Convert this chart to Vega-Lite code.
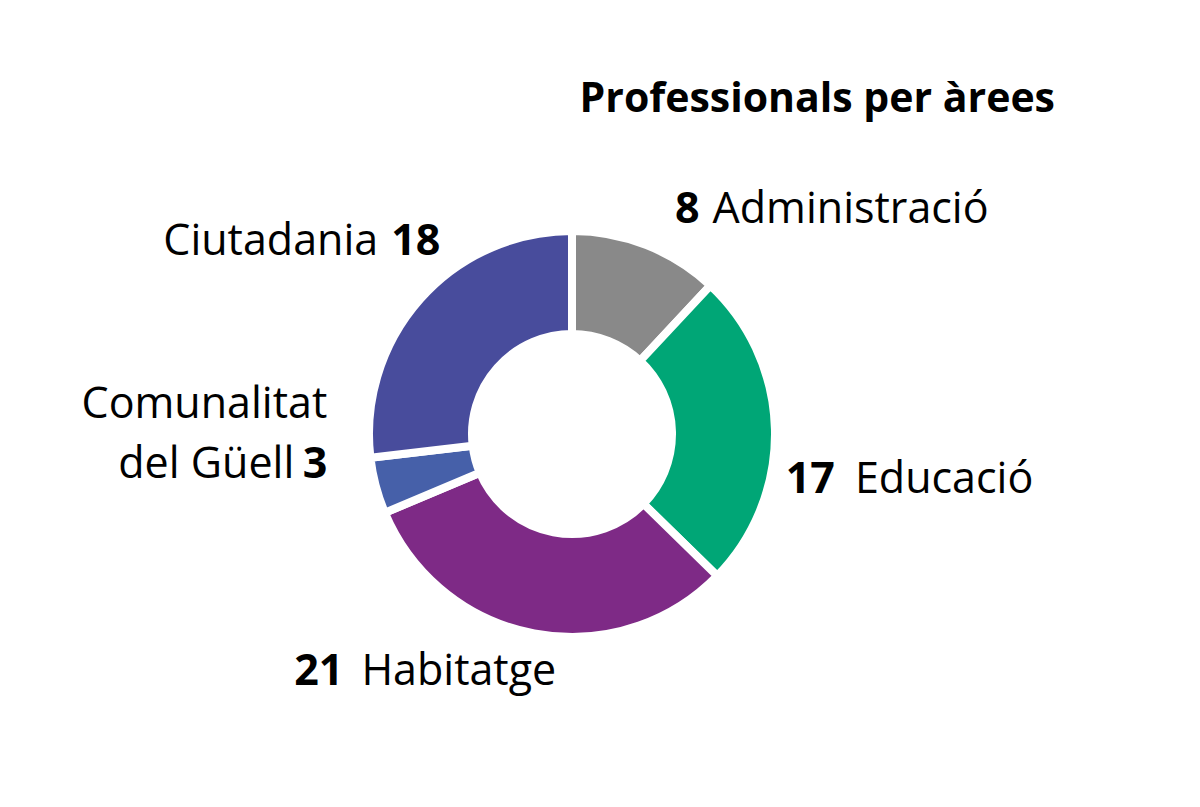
{
  "$schema": "https://vega.github.io/schema/vega-lite/v6.json",
  "autosize": "none",
  "width": 1144,
  "height": 746,
  "padding": {"left": 0, "top": 61, "right": 56, "bottom": 0},
  "background": "white",
  "config": {"view": {"stroke": null}, "text": {"font": "Open Sans", "fontSize": 43, "color": "black", "baseline": "alphabetic"}},
  "title": {
    "text": "Professionals per àrees",
    "font": "Open Sans",
    "fontSize": 41,
    "fontWeight": "bold",
    "color": "black",
    "anchor": "end",
    "frame": "group",
    "baseline": "alphabetic",
    "offset": 0,
    "dx": -89,
    "dy": 92
  },
  "data": {
    "values": [
      {"ord": 1, "area": "Administració", "value": 8},
      {"ord": 2, "area": "Educació", "value": 17},
      {"ord": 3, "area": "Habitatge", "value": 21},
      {"ord": 4, "area": "Comunalitat del Güell", "value": 3},
      {"ord": 5, "area": "Ciutadania", "value": 18}
    ]
  },
  "encoding": {
    "theta": {"field": "value", "type": "quantitative", "stack": true},
    "order": {"field": "ord", "type": "quantitative"}
  },
  "layer": [
    {
      "mark": {"type": "arc", "outerRadius": 203, "innerRadius": 100, "stroke": "white", "strokeWidth": 8},
      "encoding": {
        "color": {
          "field": "area",
          "type": "nominal",
          "scale": {
            "domain": ["Administració", "Educació", "Habitatge", "Comunalitat del Güell", "Ciutadania"],
            "range": ["#898989", "#00A676", "#7E2A86", "#4660A9", "#484C9C"]
          },
          "legend": null
        }
      }
    },
    {
      "mark": {"type": "text", "radius": 250, "align": "right", "fontWeight": "bold", "dx": 36, "dy": 22},
      "encoding": {"text": {"condition": {"test": "datum.area === 'Administració'", "field": "value", "type": "quantitative"}, "value": ""}}
    },
    {
      "mark": {"type": "text", "radius": 250, "align": "left", "dx": 49, "dy": 22},
      "encoding": {"text": {"condition": {"test": "datum.area === 'Administració'", "field": "area", "type": "nominal"}, "value": ""}}
    },
    {
      "mark": {"type": "text", "radius": 250, "align": "right", "fontWeight": "bold", "dx": 13, "dy": 65},
      "encoding": {"text": {"condition": {"test": "datum.area === 'Educació'", "field": "value", "type": "quantitative"}, "value": ""}}
    },
    {
      "mark": {"type": "text", "radius": 250, "align": "left", "dx": 33, "dy": 65},
      "encoding": {"text": {"condition": {"test": "datum.area === 'Educació'", "field": "area", "type": "nominal"}, "value": ""}}
    },
    {
      "mark": {"type": "text", "radius": 250, "align": "right", "fontWeight": "bold", "dx": -182, "dy": 5},
      "encoding": {"text": {"condition": {"test": "datum.area === 'Habitatge'", "field": "value", "type": "quantitative"}, "value": ""}}
    },
    {
      "mark": {"type": "text", "radius": 250, "align": "left", "dx": -164, "dy": 5},
      "encoding": {"text": {"condition": {"test": "datum.area === 'Habitatge'", "field": "area", "type": "nominal"}, "value": ""}}
    },
    {
      "mark": {"type": "text", "radius": 250, "align": "right", "dx": -3, "dy": -80},
      "encoding": {"text": {"condition": {"test": "datum.area === 'Comunalitat del Güell'", "value": "Comunalitat"}, "value": ""}}
    },
    {
      "mark": {"type": "text", "radius": 250, "align": "right", "dx": -36, "dy": -20},
      "encoding": {"text": {"condition": {"test": "datum.area === 'Comunalitat del Güell'", "value": "del Güell"}, "value": ""}}
    },
    {
      "mark": {"type": "text", "radius": 250, "align": "right", "fontWeight": "bold", "dx": -3, "dy": -20},
      "encoding": {"text": {"condition": {"test": "datum.area === 'Comunalitat del Güell'", "field": "value", "type": "quantitative"}, "value": ""}}
    },
    {
      "mark": {"type": "text", "radius": 250, "align": "right", "dx": -7, "dy": -13},
      "encoding": {"text": {"condition": {"test": "datum.area === 'Ciutadania'", "field": "area", "type": "nominal"}, "value": ""}}
    },
    {
      "mark": {"type": "text", "radius": 250, "align": "left", "fontWeight": "bold", "dx": 6, "dy": -13},
      "encoding": {"text": {"condition": {"test": "datum.area === 'Ciutadania'", "field": "value", "type": "quantitative"}, "value": ""}}
    }
  ]
}
